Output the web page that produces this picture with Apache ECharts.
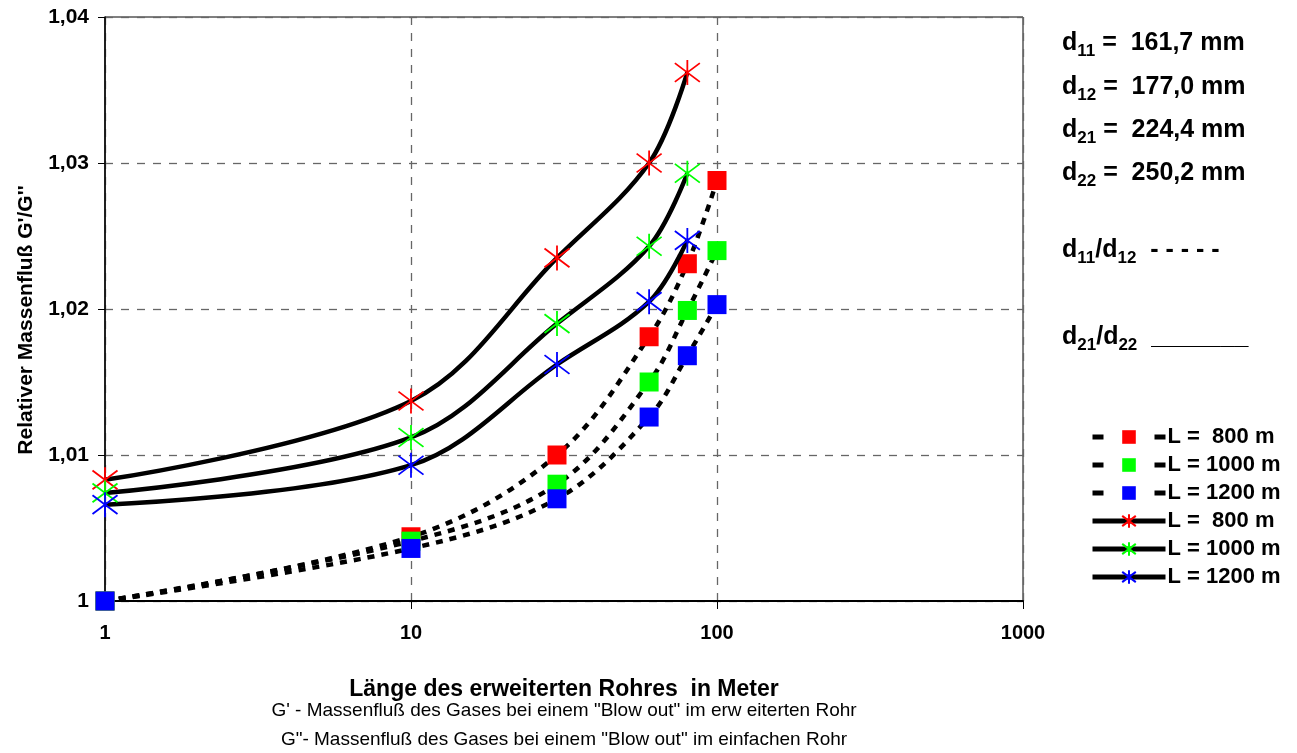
<!DOCTYPE html>
<html>
<head>
<meta charset="utf-8">
<script src="https://cdn.jsdelivr.net/npm/echarts@6/dist/echarts.min.js"></script>
<style>
  html, body { margin: 0; padding: 0; background: #fff; }
  #chart { width: 1297px; height: 753px; }
</style>
</head>
<body>
<div id="chart"></div>
<script>
// Länge des erweiterten Rohres (m)
var lenDash = [1, 10, 30, 60, 80, 100]
var lenStar = [1, 10, 30, 60, 80]

// d11/d12 (gestrichelt, Quadrate)
var dash800 = [1.0, 1.0044, 1.0100, 1.0181, 1.0231, 1.0288]
var dash1000 = [1.0, 1.0041, 1.0080, 1.0150, 1.0199, 1.0240]
var dash1200 = [1.0, 1.0036, 1.0070, 1.0126, 1.0168, 1.0203]

// d21/d22 (durchgezogen, Sterne)
var star800 = [1.0083, 1.0137, 1.0235, 1.0300, 1.0362]
var star1000 = [1.0074, 1.0112, 1.0190, 1.0243, 1.0293]
var star1200 = [1.0066, 1.0093, 1.0162, 1.0205, 1.0247]

var legendNames = ['L =  800 m', 'L = 1000 m', 'L = 1200 m']
var yTicks = [1, 1.01, 1.02, 1.03, 1.04]
var xTicks = [1, 10, 100, 1000]

var colors = ['#ff0000', '#00ff00', '#0000ff']
var starPath = 'path://M12,0L12,24M1,3L23,21M1,21L23,3'
var font = '"Liberation Sans", Arial, sans-serif'

function pairs(xs, ys) {
  var out = []
  for (var i = 0; i < ys.length; i++) out.push([xs[i], ys[i]])
  return out
}

var dashData = [dash800, dash1000, dash1200]
var starData = [star800, star1000, star1200]
var series = []
var legendData = []
var nameMap = {}

// gestrichelte Reihen
for (var i = 0; i < 3; i++) {
  var id = 'dash' + i
  nameMap[id] = legendNames[i]
  legendData.push({ name: id, lineStyle: { width: 5, type: [11, 51], color: '#000' } })
  series.push({
    name: id,
    type: 'line',
    smooth: 0.35,
    data: pairs(lenDash, dashData[i]),
    symbol: 'rect',
    symbolSize: 19,
    itemStyle: { color: colors[i] },
    lineStyle: { color: '#000', width: 4.5, type: [7, 7] },
    z: 3,
  })
}
// durchgezogene Reihen
for (var i = 0; i < 3; i++) {
  var id = 'star' + i
  nameMap[id] = legendNames[i]
  legendData.push({ name: id, lineStyle: { width: 5, type: 'solid', color: '#000' } })
  series.push({
    name: id,
    type: 'line',
    smooth: 0.35,
    data: pairs(lenStar, starData[i]),
    symbol: starPath,
    symbolSize: 25,
    itemStyle: { color: 'rgba(0,0,0,0)', borderColor: colors[i], borderWidth: 1.8 },
    lineStyle: { color: '#000', width: 4.5 },
    z: 4,
  })
}

var richSub = {
  m: { fontFamily: font, fontWeight: 'bold', fontSize: 25, verticalAlign: 'middle', fill: '#000' },
  s: { fontFamily: font, fontWeight: 'bold', fontSize: 17, verticalAlign: 'middle', padding: [16, 0, 0, 0], fill: '#000' },
}

var chart = echarts.init(document.getElementById('chart'))
chart.setOption({
  animation: false,
  backgroundColor: '#fff',
  grid: {
    left: 105,
    right: 274,
    top: 17,
    bottom: 152,
    show: true,
    borderColor: '#000',
    borderWidth: 1,
  },
  legend: {
    data: legendData,
    orient: 'vertical',
    left: 1085,
    top: 419,
    itemWidth: 73,
    itemHeight: 17,
    itemGap: 2,
    formatter: function (n) {
      return nameMap[n]
    },
    textStyle: { fontFamily: font, fontWeight: 'bold', fontSize: 22, lineHeight: 26, color: '#000', padding: [0, 0, 0, -3] },
  },
  xAxis: {
    type: 'log',
    logBase: 10,
    min: xTicks[0],
    max: xTicks[xTicks.length - 1],
    name: 'Länge des erweiterten Rohres  in Meter',
    nameLocation: 'middle',
    nameGap: 77,
    nameTextStyle: { fontFamily: font, fontWeight: 'bold', fontSize: 23, color: '#000' },
    axisLine: { lineStyle: { color: '#000', width: 2 } },
    axisTick: { show: true, length: 8, lineStyle: { color: '#000' } },
    minorTick: { show: false },
    axisLabel: {
      margin: 22,
      fontFamily: font,
      fontWeight: 'bold',
      fontSize: 20,
      color: '#000',
      formatter: function (v) {
        return String(Math.round(v))
      },
    },
    splitLine: { show: true, lineStyle: { color: '#666', type: [8, 8], width: 1.3 } },
  },
  yAxis: {
    type: 'value',
    min: yTicks[0],
    max: yTicks[yTicks.length - 1],
    interval: 0.01,
    name: "Relativer Massenfluß G'/G''",
    nameLocation: 'middle',
    nameRotate: 90,
    nameGap: 68,
    nameTextStyle: { fontFamily: font, fontWeight: 'bold', fontSize: 21, color: '#000', padding: [0, 22, 0, 0] },
    axisLine: { show: true, lineStyle: { color: '#000', width: 1.5 } },
    axisTick: { show: true, length: 7, lineStyle: { color: '#000' } },
    axisLabel: {
      margin: 16,
      fontFamily: font,
      fontWeight: 'bold',
      fontSize: 21,
      color: '#000',
      formatter: function (v) {
        if (Math.abs(v - 1) < 1e-9) return '1'
        return v.toFixed(2).replace('.', ',')
      },
    },
    splitLine: { show: true, lineStyle: { color: '#666', type: [8, 8], width: 1.3 } },
  },
  graphic: [
    { type: 'text', x: 1062, y: 43, style: { text: '{m|d}{s|11}{m| =  161,7 mm}', rich: richSub, verticalAlign: 'middle' } },
    { type: 'text', x: 1062, y: 87, style: { text: '{m|d}{s|12}{m| =  177,0 mm}', rich: richSub, verticalAlign: 'middle' } },
    { type: 'text', x: 1062, y: 130, style: { text: '{m|d}{s|21}{m| =  224,4 mm}', rich: richSub, verticalAlign: 'middle' } },
    { type: 'text', x: 1062, y: 173, style: { text: '{m|d}{s|22}{m| =  250,2 mm}', rich: richSub, verticalAlign: 'middle' } },
    { type: 'text', x: 1062, y: 250, style: { text: '{m|d}{s|11}{m|/d}{s|12}{m|  - - - - -}', rich: richSub, verticalAlign: 'middle' } },
    { type: 'text', x: 1062, y: 337, style: { text: '{m|d}{s|21}{m|/d}{s|22}{m|  _______}', rich: richSub, verticalAlign: 'middle' } },
    {
      type: 'text',
      x: 564,
      y: 711,
      style: {
        text: 'G\' - Massenfluß des Gases bei einem "Blow out" im erw eiterten Rohr',
        fontFamily: font,
        fontSize: 19,
        align: 'center',
        verticalAlign: 'middle',
        fill: '#000',
      },
    },
    {
      type: 'text',
      x: 564,
      y: 740,
      style: {
        text: 'G"- Massenfluß des Gases bei einem "Blow out" im einfachen Rohr',
        fontFamily: font,
        fontSize: 19,
        align: 'center',
        verticalAlign: 'middle',
        fill: '#000',
      },
    },
  ],
  series: series,
})
</script>
</body>
</html>
